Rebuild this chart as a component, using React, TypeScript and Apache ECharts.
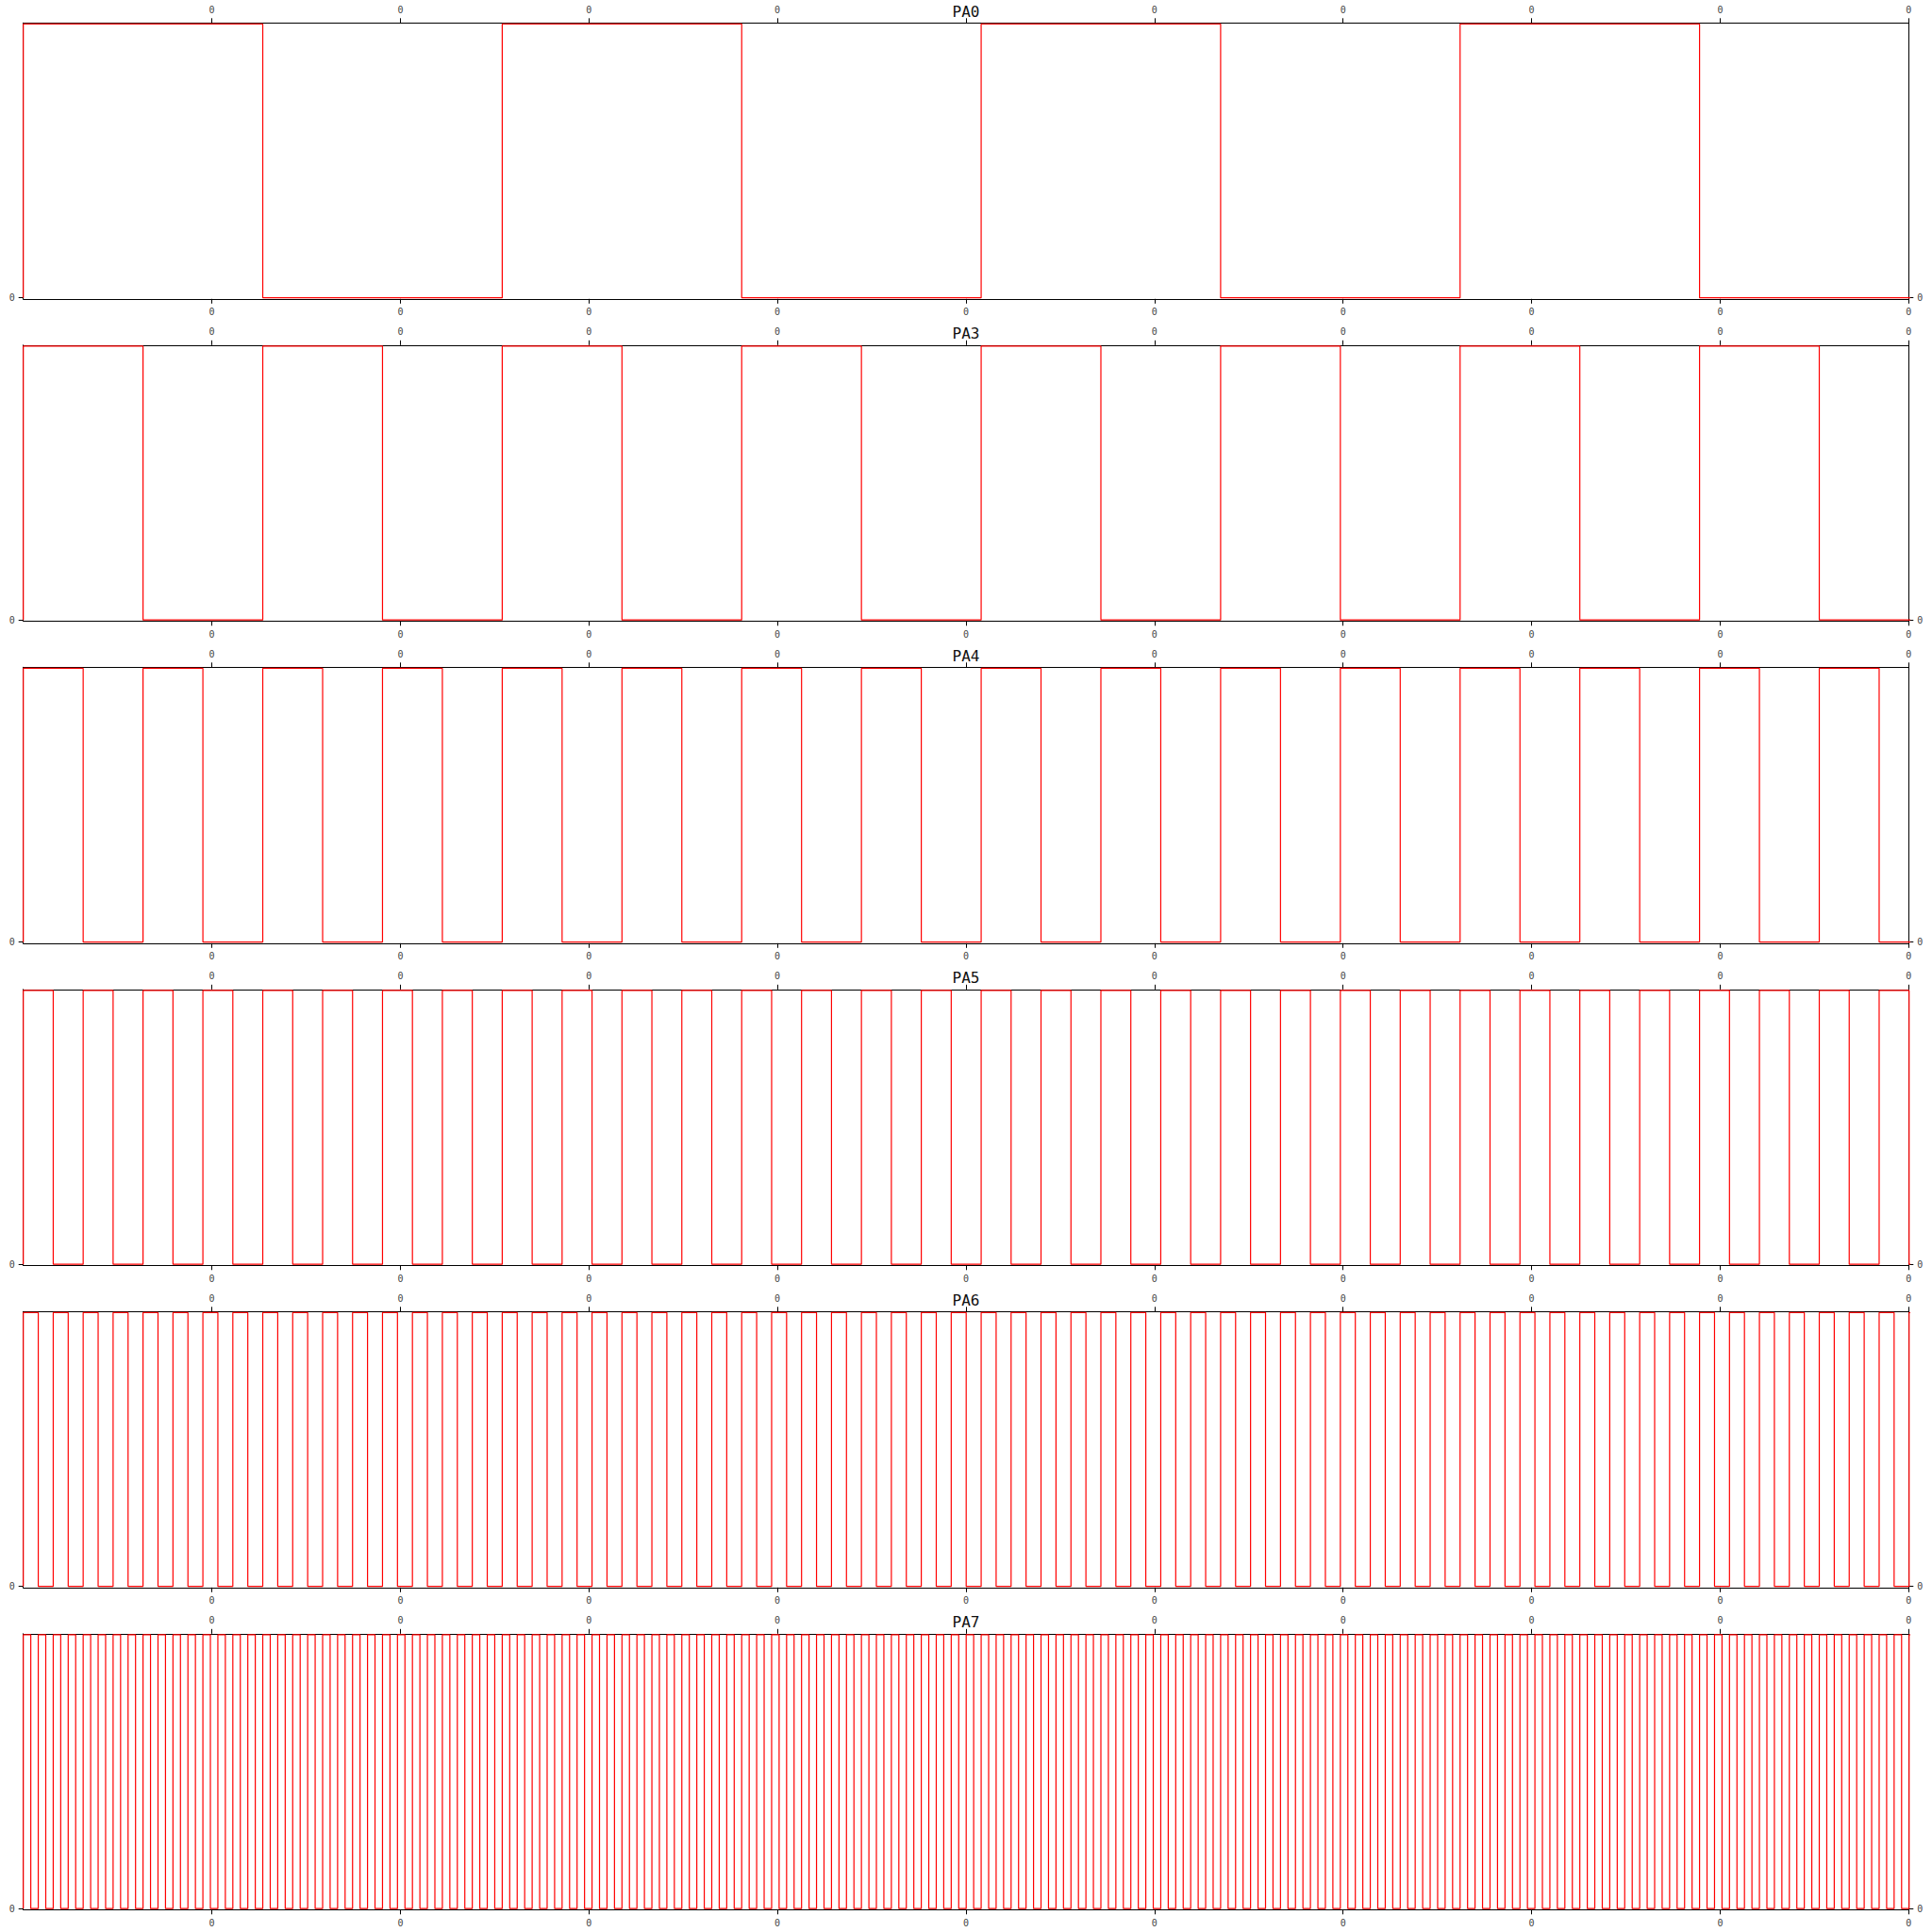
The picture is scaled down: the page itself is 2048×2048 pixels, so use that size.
import React, { useEffect, useRef } from "react";
import * as echarts from "echarts";

// Channel names (panel titles)
const channelNames = ["PA0", "PA3", "PA4", "PA5", "PA6", "PA7"];
// Duration of one level segment (half period) for each channel, in x-axis units
const halfPeriods = [1.2701, 0.63505, 0.317525, 0.1587625, 0.07938125, 0.039690625];
// Logic level of each successive segment, per channel (1 = high, 0 = low)
const levelsPA0 = "10101010";
const levelsPA3 = "1010101010101010";
const levelsPA4 = "10101010101010101010101010101010";
const levelsPA5 = "1010101010101010101010101010101010101010101010101010101010101010";
const levelsPA6 = [
  "1010101010101010",
  "1010101010101010",
  "1010101010101010",
  "1010101010101010",
  "1010101010101010",
  "1010101010101010",
  "1010101010101010",
  "1010101010101010",
].join("");
const levelsPA7 = [
  "1010101010101010",
  "1010101010101010",
  "1010101010101010",
  "1010101010101010",
  "1010101010101010",
  "1010101010101010",
  "1010101010101010",
  "1010101010101010",
  "1010101010101010",
  "1010101010101010",
  "1010101010101010",
  "1010101010101010",
  "1010101010101010",
  "1010101010101010",
  "1010101010101010",
  "1010101010101010",
].join("");
const channelLevels = [levelsPA0, levelsPA3, levelsPA4, levelsPA5, levelsPA6, levelsPA7];

// Axis ticks and labels
const xMin = 0;
const xMax = 10;
const xTickValues = [1, 2, 3, 4, 5, 6, 7, 8, 9, 10];
const xTickLabels = ["0", "0", "0", "0", "0", "0", "0", "0", "0", "0"];
// top axis: the label under the panel title is not shown
const xTopLabelValues = [1, 2, 3, 4, 6, 7, 8, 9, 10];
const yMin = -0.004;
const yMax = 1.004;
const yTickValues = [0];
const yTickLabels = ["0"];

function buildSteps(levels: string, half: number): number[][] {
  const pts: number[][] = [[0, 0]];
  for (let i = 0; i < levels.length; i++) {
    const l = Number(levels[i]);
    pts.push([i * half, l], [(i + 1) * half, l]);
  }
  return pts;
}

const FONT = "DejaVu Sans Mono";

function buildOption() {
  const grids: any[] = [];
  const xAxes: any[] = [];
  const yAxes: any[] = [];
  const titles: any[] = [];
  const series: any[] = [];
  const gridTop0 = 24.3;
  const pitch = 341.5;
  const gridH = 292.5;

  const axisLine = { show: true, onZero: false, lineStyle: { color: "#000", width: 1 } };
  const axisTickBase = { show: true, length: 5, inside: false, lineStyle: { color: "#000", width: 1 } };
  const labelBase = { show: true, color: "#444", fontFamily: FONT, fontSize: 10, margin: 9 };

  channelNames.forEach((name, i) => {
    const top = gridTop0 + i * pitch;
    grids.push({ left: 24.7, right: 24.7, top, height: gridH, containLabel: false });
    titles.push({
      text: name,
      left: "center",
      top: top - 25,
      textStyle: { fontFamily: FONT, fontSize: 16, fontWeight: "normal", color: "#111" },
    });
    for (const pos of ["bottom", "top"]) {
      xAxes.push({
        type: "value",
        gridIndex: i,
        position: pos,
        min: xMin,
        max: xMax,
        interval: 1,
        axisLine,
        axisTick: { ...axisTickBase, customValues: xTickValues },
        axisLabel: {
          ...labelBase,
          customValues: pos === "top" ? xTopLabelValues : xTickValues,
          formatter: (v: number) => {
            const k = xTickValues.indexOf(Math.round(v));
            return k >= 0 ? xTickLabels[k] : "";
          },
        },
        splitLine: { show: false },
      });
    }
    for (const pos of ["left", "right"]) {
      yAxes.push({
        type: "value",
        gridIndex: i,
        position: pos,
        min: yMin,
        max: yMax,
        axisLine,
        axisTick: { ...axisTickBase, customValues: yTickValues },
        axisLabel: {
          ...labelBase,
          customValues: yTickValues,
          formatter: (v: number) => {
            const k = yTickValues.indexOf(Math.round(v));
            return k >= 0 ? yTickLabels[k] : "";
          },
        },
        splitLine: { show: false },
      });
    }
    series.push({
      type: "line",
      name,
      xAxisIndex: 2 * i,
      yAxisIndex: 2 * i,
      data: buildSteps(channelLevels[i], halfPeriods[i]),
      showSymbol: false,
      symbol: "none",
      clip: true,
      lineStyle: { color: "#ff0000", width: 1.2 },
      z: 3,
    });
  });

  return {
    animation: false,
    backgroundColor: "#fff",
    title: titles,
    grid: grids,
    xAxis: xAxes,
    yAxis: yAxes,
    series,
  };
}

export default function App() {
  const ref = useRef<HTMLDivElement>(null);
  useEffect(() => {
    if (!ref.current) return;
    const chart = echarts.init(ref.current, null, { renderer: "svg" });
    chart.setOption(buildOption() as any);
    return () => chart.dispose();
  }, []);
  return (
    <div
      ref={ref}
      style={{ position: "fixed", left: 0, top: 0, width: 2048, height: 2048, background: "#fff" }}
    />
  );
}
